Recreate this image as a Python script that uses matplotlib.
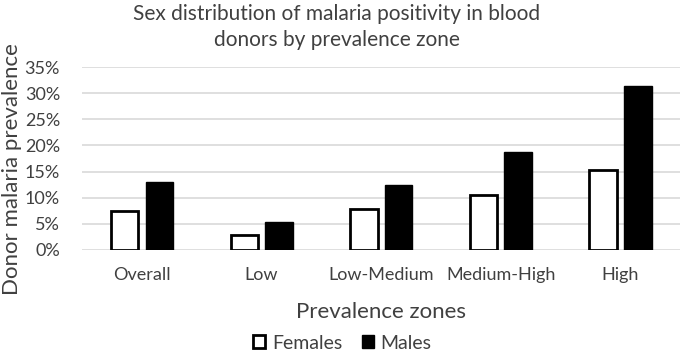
import numpy as np
import matplotlib
matplotlib.use('Agg')
import matplotlib.pyplot as plt
import matplotlib.ticker as tck

zones = ['Overall', 'Low', 'Low-Medium', 'Medium-High', 'High']
females = [0.075, 0.029, 0.079, 0.105, 0.153]
males = [0.130, 0.054, 0.124, 0.188, 0.314]

plt.rcParams['font.family'] = ['Lato', 'DejaVu Sans']
txtcol = '#404040'

fig = plt.figure(figsize=(6.85, 3.53), dpi=100)
ax = fig.add_axes([0.12, 0.292, 0.873, 0.518])

x = np.arange(len(zones))
w = 0.23
gap = 0.06
ax.bar(x - w/2 - gap/2, females, w, color='white', edgecolor='black', lw=2, label='Females', zorder=3)
ax.bar(x + w/2 + gap/2, males, w, color='black', edgecolor='black', lw=1, label='Males', zorder=3)

ax.set_xlim(-0.5, len(zones) - 0.5)
ax.set_ylim(0, 0.35)
ax.yaxis.set_major_locator(tck.MultipleLocator(0.05))
ax.yaxis.set_major_formatter(tck.PercentFormatter(1.0, decimals=0))
ax.grid(axis='y', color='#d9d9d9', lw=1.2, zorder=0)
for s in ax.spines.values():
    s.set_visible(False)
ax.tick_params(length=0, labelsize=13, colors=txtcol)
ax.tick_params(axis='x', pad=12)
ax.tick_params(axis='y', pad=16)
ax.set_xticks(x)
ax.set_xticklabels(zones)

ax.set_xlabel('Prevalence zones', fontsize=16, color=txtcol)
ax.xaxis.set_label_coords(0.5, -0.285)
ax.set_ylabel('Donor malaria prevalence', fontsize=16, color=txtcol)
ax.yaxis.set_label_coords(-0.101, 0.44)

fig.text(0.492, 0.99, 'Sex distribution of malaria positivity in blood\ndonors by prevalence zone',
         ha='center', va='top', fontsize=15, color=txtcol, linespacing=1.4)

fig.legend(loc='center', bbox_to_anchor=(0.5, 0.028), ncol=2, frameon=False,
           fontsize=14, handlelength=0.62, handleheight=0.62, handletextpad=0.35,
           columnspacing=1.0, labelcolor=txtcol, borderpad=0)

fig.savefig('out.png', dpi=100)
